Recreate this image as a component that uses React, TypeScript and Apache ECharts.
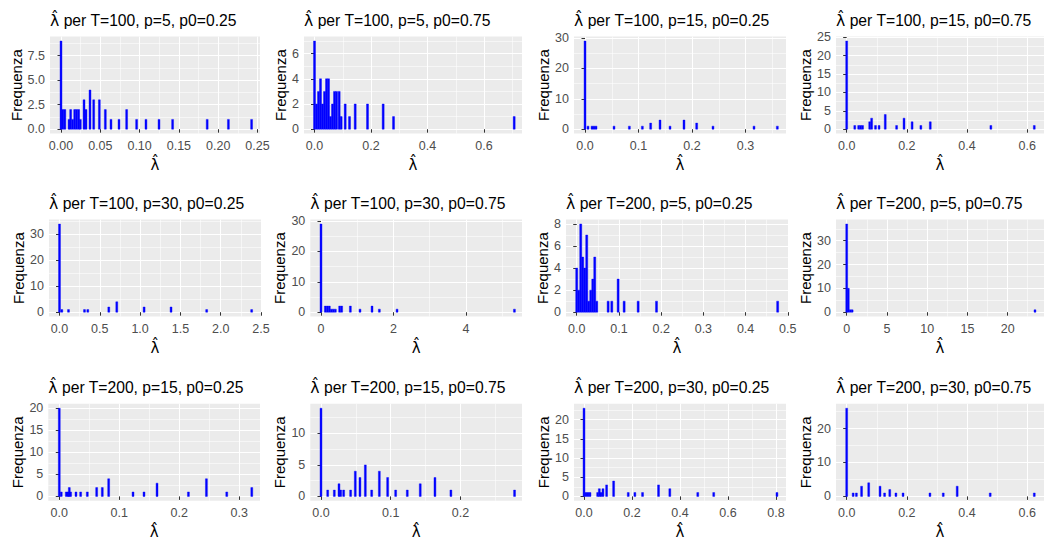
import React, { useEffect, useRef } from "react";
import * as echarts from "echarts";

// ---- data: bar centres (lambda-hat) and counts per panel ----
const lam_T100_p5_025 = [0, 0.0024, 0.0049, 0.0102, 0.0123, 0.0148, 0.0174, 0.0199, 0.0225, 0.0246, 0.0293, 0.0318, 0.0369, 0.0416, 0.0488, 0.0564, 0.0636, 0.0738, 0.0835, 0.0962, 0.1081, 0.1247, 0.142, 0.186, 0.213, 0.2425];
const freq_T100_p5_025 = [9, 2, 2, 1, 2, 1, 2, 2, 2, 1, 3, 2, 4, 3, 3, 2, 1, 1, 2, 1, 1, 1, 1, 1, 1, 1];

const lam_T100_p5_075 = [0, 0.0071, 0.0142, 0.0212, 0.0283, 0.0354, 0.0425, 0.0496, 0.0566, 0.0637, 0.0708, 0.0779, 0.0873, 0.0944, 0.1086, 0.1239, 0.144, 0.1876, 0.243, 0.2797, 0.7068];
const freq_T100_p5_075 = [7, 2, 3, 4, 2, 3, 4, 4, 1, 2, 3, 3, 3, 1, 2, 1, 2, 2, 2, 1, 1];

const lam_T100_p15_025 = [0, 0.0056, 0.0131, 0.0168, 0.0206, 0.0542, 0.0829, 0.1072, 0.1227, 0.1402, 0.1589, 0.185, 0.2087, 0.2392, 0.3159, 0.3595];
const freq_T100_p15_025 = [29, 1, 1, 1, 1, 1, 1, 1, 2, 3, 1, 3, 2, 1, 1, 1];

const lam_T100_p15_075 = [0, 0.0269, 0.0398, 0.0463, 0.0528, 0.0765, 0.0829, 0.0958, 0.1077, 0.1282, 0.1659, 0.1906, 0.2175, 0.2466, 0.2779, 0.4793, 0.6236];
const freq_T100_p15_075 = [24, 1, 1, 1, 1, 2, 3, 1, 1, 4, 1, 3, 2, 1, 2, 1, 1];

const lam_T100_p30_025 = [0, 0.029, 0.1116, 0.31, 0.351, 0.6116, 0.7107, 1.0496, 1.384, 1.826, 2.384];
const freq_T100_p30_025 = [34, 1, 1, 1, 1, 2, 4, 2, 2, 1, 1];

const lam_T100_p30_075 = [0, 0.12, 0.175, 0.23, 0.285, 0.34, 0.396, 0.515, 0.57, 0.81, 1.076, 1.408, 1.61, 2.098, 5.336];
const freq_T100_p30_075 = [29, 2, 2, 2, 1, 1, 1, 2, 2, 2, 1, 2, 1, 1, 1];

const lam_T200_p5_025 = [0, 0.0047, 0.0095, 0.0142, 0.019, 0.0237, 0.0285, 0.0332, 0.038, 0.0427, 0.0475, 0.0744, 0.0831, 0.0981, 0.1123, 0.1455, 0.189, 0.476];
const freq_T200_p5_025 = [4, 2, 8, 5, 4, 7, 1, 2, 3, 5, 1, 1, 1, 3, 1, 1, 1, 1];

const lam_T200_p5_075 = [0, 0.2, 0.44, 0.68, 23.4];
const freq_T200_p5_075 = [37, 10, 1, 1, 1];

const lam_T200_p15_025 = [0, 0.0033, 0.0117, 0.0145, 0.0167, 0.0189, 0.0278, 0.0356, 0.0467, 0.0623, 0.0717, 0.0823, 0.1229, 0.1412, 0.1629, 0.2152, 0.2452, 0.2791, 0.3208];
const freq_T200_p15_025 = [20, 1, 1, 1, 2, 1, 1, 1, 1, 2, 2, 4, 1, 1, 3, 1, 4, 1, 2];

const lam_T200_p15_075 = [0, 0.0096, 0.0191, 0.0258, 0.0282, 0.0325, 0.0425, 0.0492, 0.0559, 0.0636, 0.0727, 0.0837, 0.0956, 0.1071, 0.1238, 0.1424, 0.1635, 0.1864, 0.2777];
const freq_T200_p15_075 = [14, 1, 1, 2, 1, 1, 1, 4, 3, 5, 1, 4, 3, 1, 1, 2, 3, 1, 1];

const lam_T200_p30_025 = [0, 0.0083, 0.0166, 0.025, 0.0568, 0.0638, 0.0707, 0.079, 0.0942, 0.1234, 0.1843, 0.212, 0.2439, 0.3105, 0.3576, 0.474, 0.5405, 0.804];
const freq_T200_p30_025 = [23, 1, 1, 1, 1, 2, 1, 2, 3, 4, 1, 1, 1, 3, 2, 1, 1, 1];

const lam_T200_p30_075 = [0, 0.0215, 0.0323, 0.0495, 0.0732, 0.1109, 0.126, 0.1432, 0.1637, 0.1874, 0.2768, 0.321, 0.3673, 0.4771, 0.6236];
const freq_T200_p30_075 = [26, 1, 1, 3, 4, 3, 1, 2, 1, 1, 1, 1, 3, 1, 1];

// ---- titles and tick labels ----
const titles = [
  "per T=100, p=5, p0=0.25", "per T=100, p=5, p0=0.75", "per T=100, p=15, p0=0.25", "per T=100, p=15, p0=0.75",
  "per T=100, p=30, p0=0.25", "per T=100, p=30, p0=0.75", "per T=200, p=5, p0=0.25", "per T=200, p=5, p0=0.75",
  "per T=200, p=15, p0=0.25", "per T=200, p=15, p0=0.75", "per T=200, p=30, p0=0.25", "per T=200, p=30, p0=0.75",
];
const xTicks1 = [0, 0.05, 0.1, 0.15, 0.2, 0.25];
const xTicks2 = [0, 0.2, 0.4, 0.6];
const xTicks3 = [0, 0.1, 0.2, 0.3];
const xTicks4 = [0, 0.2, 0.4, 0.6];
const xTicks5 = [0, 0.5, 1, 1.5, 2, 2.5];
const xTicks6 = [0, 2, 4];
const xTicks7 = [0, 0.1, 0.2, 0.3, 0.4, 0.5];
const xTicks8 = [0, 5, 10, 15, 20];
const xTicks9 = [0, 0.1, 0.2, 0.3];
const xTicks10 = [0, 0.1, 0.2];
const xTicks11 = [0, 0.2, 0.4, 0.6, 0.8];
const xTicks12 = [0, 0.2, 0.4, 0.6];
const yTicks1 = [0, 2.5, 5, 7.5];
const yTicks2 = [0, 2, 4, 6];
const yTicks3 = [0, 10, 20, 30];
const yTicks4 = [0, 5, 10, 15, 20, 25];
const yTicks5 = [0, 10, 20, 30];
const yTicks6 = [0, 10, 20, 30];
const yTicks7 = [0, 2, 4, 6, 8];
const yTicks8 = [0, 10, 20, 30];
const yTicks9 = [0, 5, 10, 15, 20];
const yTicks10 = [0, 5, 10];
const yTicks11 = [0, 5, 10, 15, 20];
const yTicks12 = [0, 10, 20];

// ---- layout ----
const ROW_TOP = [36.6, 219.6, 403.8];
const ROW_H = 97;
const TITLE_TOP = [12.5, 195.5, 379.5];
const YNAME_X = [19, 282, 544, 806];
const FONT = "'Liberation Sans', Arial, sans-serif";

type Panel = {
  lam: number[]; freq: number[]; xMin: number; xMax: number; xTicks: number[]; xDec: number;
  yTicks: number[]; yDec: number; left: number; right: number; row: number; col: number;
};

const panels: Panel[] = [
  { lam: lam_T100_p5_025, freq: freq_T100_p5_025, xMin: -0.014, xMax: 0.2532, xTicks: xTicks1, xDec: 2, yTicks: yTicks1, yDec: 1, left: 50, right: 260, row: 0, col: 0 },
  { lam: lam_T100_p5_075, freq: freq_T100_p5_075, xMin: -0.0372, xMax: 0.7345, xTicks: xTicks2, xDec: 1, yTicks: yTicks2, yDec: 0, left: 304, right: 522, row: 0, col: 1 },
  { lam: lam_T100_p15_025, freq: freq_T100_p15_025, xMin: -0.0206, xMax: 0.3757, xTicks: xTicks3, xDec: 1, yTicks: yTicks3, yDec: 0, left: 574, right: 786, row: 0, col: 2 },
  { lam: lam_T100_p15_075, freq: freq_T100_p15_075, xMin: -0.0355, xMax: 0.6559, xTicks: xTicks4, xDec: 1, yTicks: yTicks4, yDec: 0, left: 836, right: 1050, row: 0, col: 3 },
  { lam: lam_T100_p30_025, freq: freq_T100_p30_025, xMin: -0.1303, xMax: 2.5, xTicks: xTicks5, xDec: 1, yTicks: yTicks5, yDec: 0, left: 49, right: 261, row: 1, col: 0 },
  { lam: lam_T100_p30_075, freq: freq_T100_p30_075, xMin: -0.295, xMax: 5.545, xTicks: xTicks6, xDec: 0, yTicks: yTicks6, yDec: 0, left: 310.3, right: 522, row: 1, col: 1 },
  { lam: lam_T200_p5_025, freq: freq_T200_p5_025, xMin: -0.0254, xMax: 0.5005, xTicks: xTicks7, xDec: 1, yTicks: yTicks7, yDec: 0, left: 566, right: 788, row: 1, col: 2 },
  { lam: lam_T200_p5_075, freq: freq_T200_p5_075, xMin: -1.33, xMax: 24.52, xTicks: xTicks8, xDec: 0, yTicks: yTicks8, yDec: 0, left: 836, right: 1050, row: 1, col: 3 },
  { lam: lam_T200_p15_025, freq: freq_T200_p15_025, xMin: -0.0183, xMax: 0.3345, xTicks: xTicks9, xDec: 1, yTicks: yTicks9, yDec: 0, left: 48.3, right: 260, row: 2, col: 0 },
  { lam: lam_T200_p15_075, freq: freq_T200_p15_075, xMin: -0.01535, xMax: 0.2884, xTicks: xTicks10, xDec: 1, yTicks: yTicks10, yDec: 0, left: 310.3, right: 522, row: 2, col: 1 },
  { lam: lam_T200_p30_025, freq: freq_T200_p30_025, xMin: -0.0417, xMax: 0.8417, xTicks: xTicks11, xDec: 1, yTicks: yTicks11, yDec: 0, left: 574, right: 786, row: 2, col: 2 },
  { lam: lam_T200_p30_075, freq: freq_T200_p30_075, xMin: -0.0355, xMax: 0.6559, xTicks: xTicks12, xDec: 1, yTicks: yTicks12, yDec: 0, left: 836, right: 1050, row: 2, col: 3 },
];

function minorOf(ticks: number[], lo: number, hi: number): number[] {
  const step = ticks.length > 1 ? ticks[1] - ticks[0] : 1;
  const out: number[] = [];
  for (let k = -1; k < ticks.length; k++) {
    const v = ticks[0] + (k + 0.5) * step;
    if (v > lo && v < hi) out.push(+v.toFixed(6));
  }
  return out;
}

function buildOption() {
  const grid: any[] = [];
  const xAxis: any[] = [];
  const yAxis: any[] = [];
  const series: any[] = [];
  const title: any[] = [];

  panels.forEach((p, i) => {
    const top = ROW_TOP[p.row];
    grid.push({
      left: p.left, top, width: p.right - p.left, height: ROW_H,
      show: true, backgroundColor: "#EBEBEB", borderWidth: 0, containLabel: false,
    });
    const yMaxCount = Math.max(...p.freq);
    const yMin = -0.05 * yMaxCount;
    const yMax = 1.05 * yMaxCount;

    const xi = xAxis.length;
    xAxis.push({
      type: "value", gridIndex: i, min: p.xMin, max: p.xMax, position: "bottom",
      axisLine: { show: false },
      axisTick: { show: true, length: 3.5, customValues: p.xTicks, lineStyle: { color: "#333333", width: 1 } },
      axisLabel: {
        customValues: p.xTicks, formatter: (v: number) => v.toFixed(p.xDec),
        color: "#4D4D4D", fontSize: 12.5, fontFamily: FONT, margin: 6,
      },
      splitLine: { show: true, lineStyle: { color: "#FFFFFF", width: 1.1 } },
      name: "λ̂", nameLocation: "middle", nameGap: 24,
      nameTextStyle: { fontFamily: "'DejaVu Sans', sans-serif", fontSize: 15, color: "#000000" },
    });
    xAxis.push({
      type: "value", gridIndex: i, min: p.xMin, max: p.xMax, position: "top",
      axisLine: { show: false },
      axisTick: { show: false, customValues: minorOf(p.xTicks, p.xMin, p.xMax) },
      axisLabel: { show: false },
      splitLine: { show: true, lineStyle: { color: "#FFFFFF", width: 0.55 } },
    });

    const yi = yAxis.length;
    yAxis.push({
      type: "value", gridIndex: i, min: yMin, max: yMax, position: "left",
      axisLine: { show: false },
      axisTick: { show: true, length: 3.5, customValues: p.yTicks, lineStyle: { color: "#333333", width: 1 } },
      axisLabel: {
        customValues: p.yTicks, formatter: (v: number) => v.toFixed(p.yDec),
        color: "#4D4D4D", fontSize: 12.5, fontFamily: FONT, margin: 5,
      },
      splitLine: { show: true, lineStyle: { color: "#FFFFFF", width: 1.1 } },
      name: "Frequenza", nameLocation: "middle", nameGap: p.left - YNAME_X[p.col] - 7.5,
      nameTextStyle: { fontFamily: FONT, fontSize: 15, color: "#000000" },
    });
    yAxis.push({
      type: "value", gridIndex: i, min: yMin, max: yMax, position: "right",
      axisLine: { show: false },
      axisTick: { show: false, customValues: minorOf(p.yTicks, yMin, yMax) },
      axisLabel: { show: false },
      splitLine: { show: true, lineStyle: { color: "#FFFFFF", width: 0.55 } },
    });

    const bw = (p.xMax - p.xMin) / 110;
    series.push({
      type: "custom", xAxisIndex: xi, yAxisIndex: yi, silent: true, clip: true,
      data: p.lam.map((v, k) => [v, p.freq[k]]),
      renderItem: (_params: any, api: any) => {
        const x = api.value(0);
        const c = api.value(1);
        const a = api.coord([x - bw / 2, 0]);
        const b = api.coord([x + bw / 2, c]);
        return {
          type: "rect",
          shape: { x: a[0], y: b[1], width: Math.max(b[0] - a[0], 1), height: a[1] - b[1] },
          style: { fill: "#0000FF", stroke: "#0000FF", lineWidth: 0.4 },
        };
      },
    });

    title.push({
      text: "{l|λ̂} " + titles[i],
      left: p.left, top: TITLE_TOP[p.row], padding: 0,
      textStyle: {
        fontFamily: FONT, fontSize: 15.7, fontWeight: "normal", color: "#000000",
        rich: { l: { fontFamily: "'DejaVu Sans', sans-serif", fontSize: 15.7, color: "#000000" } },
      },
    });
  });

  return { animation: false, backgroundColor: "#FFFFFF", title, grid, xAxis, yAxis, series };
}

export default function App() {
  const ref = useRef<HTMLDivElement>(null);
  useEffect(() => {
    if (!ref.current) return;
    const chart = echarts.init(ref.current, undefined, { renderer: "svg" });
    chart.setOption(buildOption() as any);
    return () => chart.dispose();
  }, []);
  return (
    <div
      ref={ref}
      style={{ position: "fixed", left: 0, top: 0, width: 1044, height: 548, background: "#fff" }}
    />
  );
}
